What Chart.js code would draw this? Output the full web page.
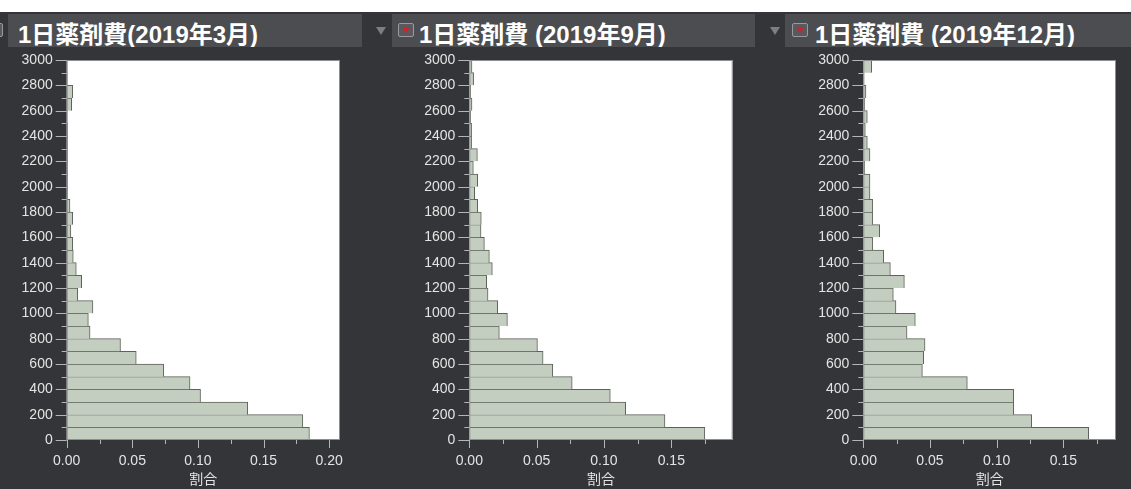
<!DOCTYPE html>
<html>
<head>
<meta charset="utf-8">
<script src="https://cdn.jsdelivr.net/npm/chart.js@4"></script>
<style>
  html, body { margin: 0; padding: 0; }
  body { width: 1131px; height: 489px; overflow: hidden; position: relative; background: #ffffff; }
  #stage { position: absolute; left: 0; top: 12px; width: 1131px; height: 477px; background: #343538; }
  .head { position: absolute; top: 14px; height: 33px; background: #4c4d51; overflow: hidden; }
  .head span { position: absolute; top: 1px; line-height: 33px; color: #ffffff; font: bold 24px "Liberation Sans", "Noto Sans CJK JP", sans-serif; white-space: nowrap; }
  .icon { position: absolute; top: 23px; width: 14px; height: 12px; border: 1.5px solid #9a9a9c; border-radius: 2px; background: #5a5a5e; }
  .icon::after { content: ""; position: absolute; left: 3px; top: 3px; border-left: 4px solid transparent; border-right: 4px solid transparent; border-top: 6px solid #d42128; }
  .tri { position: absolute; top: 27px; border-left: 5px solid transparent; border-right: 5px solid transparent; border-top: 8px solid #7d7e82; }
  .panel { position: absolute; top: 48px; height: 441px; }
</style>
</head>
<body>
<div id="stage"></div>

<div class="head" style="left:8px;width:354px;"><span style="left:10px;">1日薬剤費(2019年3月)</span></div>
<div class="icon" style="left:-13px;"></div>

<div class="tri" style="left:376px;"></div>
<div class="head" style="left:392px;width:363px;"><span style="left:27px;">1日薬剤費 (2019年9月)</span></div>
<div class="icon" style="left:398px;"></div>

<div class="tri" style="left:770px;"></div>
<div class="head" style="left:785px;width:346px;"><span style="left:30px;">1日薬剤費 (2019年12月)</span></div>
<div class="icon" style="left:792px;"></div>

<div class="panel" style="left:0px;width:360px;"><canvas id="c1"></canvas></div>
<div class="panel" style="left:380px;width:370px;"><canvas id="c2"></canvas></div>
<div class="panel" style="left:760px;width:371px;"><canvas id="c3"></canvas></div>

<script>
// Lower edge of each 100-yen bin of daily drug cost (bottom to top)
const binStarts = [0,100,200,300,400,500,600,700,800,900,1000,1100,1200,1300,1400,
                   1500,1600,1700,1800,1900,2000,2100,2200,2300,2400,2500,2600,2700,2800,2900];
const binWidth = 100;

// Share of patients in each bin
const shareMar2019 = [0.185,0.180,0.138,0.102,0.094,0.074,0.053,0.041,0.0178,0.0165,
                      0.020,0.0084,0.0114,0.0073,0.005,0.0046,0.0032,0.0046,0.0025,0.0008,
                      0.0007,0.0007,0.0007,0.0007,0.0007,0,0.0038,0.0046,0.0003,0];
const shareSep2019 = [0.1749,0.1453,0.1161,0.1047,0.0764,0.062,0.0548,0.0506,0.0223,0.0283,
                      0.0211,0.0139,0.0129,0.0171,0.0149,0.0112,0.0087,0.0089,0.0062,0.004,
                      0.0062,0.003,0.006,0.0017,0.0017,0.001,0.002,0.001,0.0032,0.002];
const shareDec2019 = [0.169,0.1263,0.1128,0.1128,0.078,0.0443,0.0453,0.0463,0.0328,0.039,
                      0.0245,0.0225,0.0308,0.0203,0.0153,0.007,0.0123,0.007,0.007,0.005,
                      0.005,0.001,0.005,0.003,0.0015,0.003,0.001,0.002,0.0005,0.0063];

// Axis ticks
const costTickLabels = [0,200,400,600,800,1000,1200,1400,1600,1800,2000,2200,2400,2600,2800,3000];
const shareTickLabels = [0.00,0.05,0.10,0.15,0.20];
const axisTitle = '割合';

const tickFont = { family: '"Liberation Sans", Arial, sans-serif', size: 14 };
const textColor = '#e4e4e4';

function isLabelled(list, v) {
  return list.some(t => Math.abs(t - v) < 1e-9);
}

// Keep the plot area exactly where the axes put it (no extra room for edge labels)
function dropScalePadding(scale) {
  scale.paddingTop = 0;
  scale.paddingBottom = 0;
  scale.paddingLeft = 0;
  scale.paddingRight = 0;
}

// White plot area, frame and major/minor tick marks
const framePlugin = {
  id: 'frame',
  beforeDatasetsDraw(chart) {
    const { ctx, chartArea: a } = chart;
    ctx.save();
    ctx.fillStyle = '#ffffff';
    ctx.fillRect(a.left, a.top, a.right - a.left, a.bottom - a.top);
    ctx.restore();
  },
  afterDatasetsDraw(chart) {
    const { ctx, chartArea: a, scales } = chart;
    ctx.save();
    ctx.strokeStyle = '#8c8d90';
    ctx.lineWidth = 1;
    ctx.strokeRect(a.left + 0.5, a.top + 0.5, a.right - a.left - 1, a.bottom - a.top - 1);
    ctx.strokeStyle = '#b4b5b8';
    ctx.beginPath();
    for (const t of scales.y.ticks) {
      const p = Math.round(scales.y.getPixelForValue(t.value)) + 0.5;
      const len = isLabelled(costTickLabels, t.value) ? 11 : 5;
      ctx.moveTo(a.left - len, p);
      ctx.lineTo(a.left, p);
    }
    for (const t of scales.x.ticks) {
      const p = Math.round(scales.x.getPixelForValue(t.value)) + 0.5;
      const len = isLabelled(shareTickLabels, t.value) ? 8 : 4;
      ctx.moveTo(p, a.bottom);
      ctx.lineTo(p, a.bottom + len);
    }
    ctx.stroke();
    ctx.restore();
  }
};

function makeChart(id, shares, xMax, yAxisWidth, rightPad) {
  const points = binStarts.map((b, i) => ({ y: b + binWidth / 2, x: shares[i] }));
  return new Chart(document.getElementById(id), {
    type: 'bar',
    data: {
      datasets: [{
        data: points,
        backgroundColor: '#c4cec0',
        borderColor: '#5c6159',
        borderWidth: { top: 1, right: 1, bottom: 0, left: 0 },
        borderSkipped: false,
        barPercentage: 1,
        categoryPercentage: 1
      }]
    },
    options: {
      indexAxis: 'y',
      responsive: true,
      maintainAspectRatio: false,
      animation: false,
      layout: { padding: { top: 12, right: rightPad, left: 0, bottom: 0 } },
      plugins: { legend: { display: false }, tooltip: { enabled: false } },
      scales: {
        y: {
          type: 'linear',
          min: 0,
          max: 3000,
          offset: false,
          grid: { display: false, drawTicks: false, offset: false },
          border: { display: false },
          ticks: {
            stepSize: 100,
            autoSkip: false,
            padding: 14,
            color: textColor,
            font: tickFont,
            callback: v => isLabelled(costTickLabels, v) ? String(v) : ''
          },
          afterFit(scale) { scale.width = yAxisWidth; dropScalePadding(scale); }
        },
        x: {
          type: 'linear',
          min: 0,
          max: xMax,
          grid: { display: false, drawTicks: false },
          border: { display: false },
          ticks: {
            stepSize: 0.025,
            includeBounds: false,
            autoSkip: false,
            maxRotation: 0,
            padding: 13,
            color: textColor,
            font: tickFont,
            callback: v => isLabelled(shareTickLabels, v) ? v.toFixed(2) : ''
          },
          title: {
            display: true,
            text: axisTitle,
            color: textColor,
            font: { family: '"Noto Sans CJK JP", sans-serif', size: 14 },
            padding: { top: 0, bottom: 2 }
          },
          afterFit(scale) { scale.height = 49; dropScalePadding(scale); }
        }
      }
    },
    plugins: [framePlugin]
  });
}

makeChart('c1', shareMar2019, 0.2083, 66.7, 20);
makeChart('c2', shareSep2019, 0.1956, 89.3, 17.3);
makeChart('c3', shareDec2019, 0.1895, 103.3, 15);
</script>
</body>
</html>
